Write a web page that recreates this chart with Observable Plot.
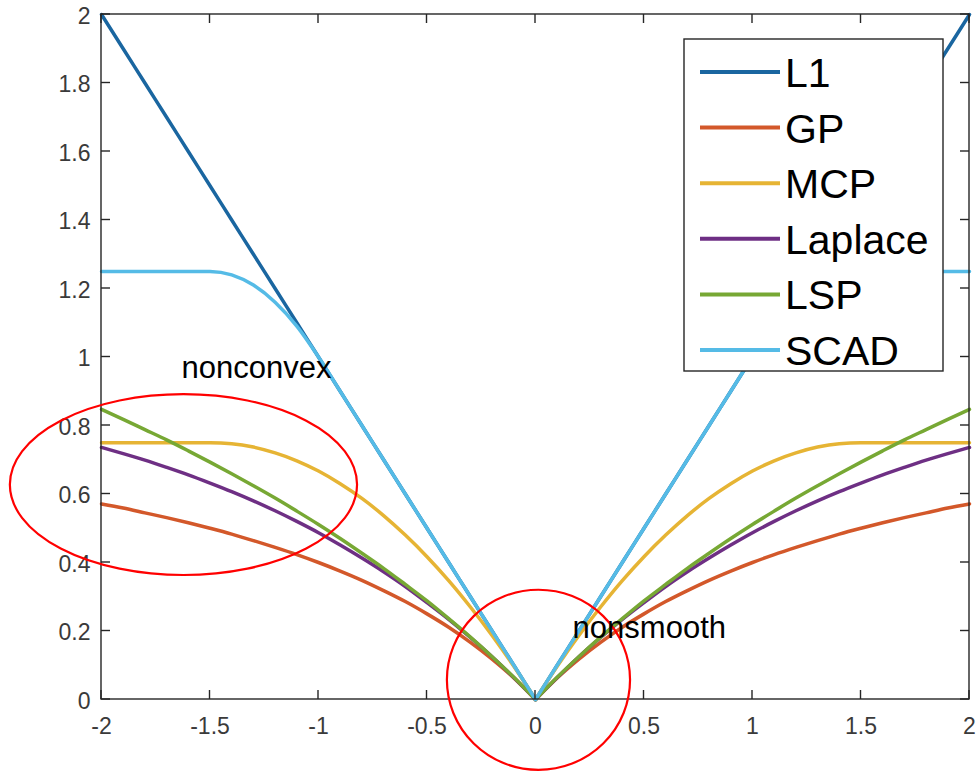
<!DOCTYPE html>
<html>
<head>
<meta charset="utf-8">
<script src="https://cdn.jsdelivr.net/npm/d3@7"></script>
<script src="https://cdn.jsdelivr.net/npm/@observablehq/plot@0.6"></script>
<style>
  html, body { margin: 0; padding: 0; background: #fff; }
  #chart { width: 977px; height: 771px; }
</style>
</head>
<body>
<div id="chart"></div>
<script>
// Sample positions along the horizontal axis
const xGrid = [-2,-1.9,-1.8,-1.7,-1.6,-1.5,-1.4,-1.3,-1.2,-1.1,-1,-0.9,-0.8,-0.7,-0.6,-0.5,-0.4,-0.3,-0.2,-0.1,0,
               0.1,0.2,0.3,0.4,0.5,0.6,0.7,0.8,0.9,1,1.1,1.2,1.3,1.4,1.5,1.6,1.7,1.8,1.9,2];

// Penalty values at each sample position
const l1Values = [2,1.9,1.8,1.7,1.6,1.5,1.4,1.3,1.2,1.1,1,0.9,0.8,0.7,0.6,0.5,0.4,0.3,0.2,0.1,0,
                  0.1,0.2,0.3,0.4,0.5,0.6,0.7,0.8,0.9,1,1.1,1.2,1.3,1.4,1.5,1.6,1.7,1.8,1.9,2];
const gpValues = [0.571,0.559,0.545,0.531,0.516,0.5,0.483,0.464,0.444,0.423,0.4,0.375,0.348,0.318,0.286,0.25,0.211,0.167,0.118,0.063,0,
                  0.063,0.118,0.167,0.211,0.25,0.286,0.318,0.348,0.375,0.4,0.423,0.444,0.464,0.483,0.5,0.516,0.531,0.545,0.559,0.571];
const mcpValues = [0.75,0.75,0.75,0.75,0.75,0.75,0.747,0.737,0.72,0.697,0.667,0.63,0.587,0.537,0.48,0.417,0.347,0.27,0.187,0.097,0,
                   0.097,0.187,0.27,0.347,0.417,0.48,0.537,0.587,0.63,0.667,0.697,0.72,0.737,0.747,0.75,0.75,0.75,0.75,0.75,0.75];
const laplaceValues = [0.736,0.718,0.699,0.678,0.656,0.632,0.607,0.580,0.551,0.520,0.487,0.451,0.413,0.373,0.330,0.283,0.234,0.181,0.125,0.064,0,
                       0.064,0.125,0.181,0.234,0.283,0.330,0.373,0.413,0.451,0.487,0.520,0.551,0.580,0.607,0.632,0.656,0.678,0.699,0.718,0.736];
const lspValues = [0.847,0.818,0.788,0.758,0.726,0.693,0.659,0.624,0.588,0.550,0.511,0.470,0.427,0.383,0.336,0.288,0.236,0.182,0.125,0.065,0,
                   0.065,0.125,0.182,0.236,0.288,0.336,0.383,0.427,0.470,0.511,0.550,0.588,0.624,0.659,0.693,0.726,0.758,0.788,0.818,0.847];
const scadValues = [1.25,1.25,1.25,1.25,1.25,1.25,1.24,1.21,1.16,1.09,1,0.9,0.8,0.7,0.6,0.5,0.4,0.3,0.2,0.1,0,
                    0.1,0.2,0.3,0.4,0.5,0.6,0.7,0.8,0.9,1,1.09,1.16,1.21,1.24,1.25,1.25,1.25,1.25,1.25,1.25];

const seriesNames = ["L1", "GP", "MCP", "Laplace", "LSP", "SCAD"];
const seriesValues = [l1Values, gpValues, mcpValues, laplaceValues, lspValues, scadValues];
const seriesColors = ["#1a66a0", "#d3582a", "#e6b434", "#6e2f84", "#77a834", "#55bbe6"];

// Axis ticks and their labels
const xTicks = [-2, -1.5, -1, -0.5, 0, 0.5, 1, 1.5, 2];
const xTickLabels = ["-2", "-1.5", "-1", "-0.5", "0", "0.5", "1", "1.5", "2"];
const yTicks = [0, 0.2, 0.4, 0.6, 0.8, 1, 1.2, 1.4, 1.6, 1.8, 2];
const yTickLabels = ["0", "0.2", "0.4", "0.6", "0.8", "1", "1.2", "1.4", "1.6", "1.8", "2"];

// Highlight rings (centre and radii in data units)
const ringCx = [-1.62, 0.016];
const ringCy = [0.626, 0.056];
const ringRx = [0.80, 0.422];
const ringRy = [0.264, 0.263];

// Annotation notes
const noteText = ["nonconvex", "nonsmooth"];
const noteX = [-1.631, 0.171];
const noteY = [0.968, 0.209];

// Long-format rows; each curve split into left and right halves at the kink x = 0
const rows = [];
seriesNames.forEach((name, s) => {
  xGrid.forEach((x, i) => {
    if (x <= 0) rows.push({series: name, key: name + "-L", x, y: seriesValues[s][i]});
  });
  xGrid.forEach((x, i) => {
    if (x >= 0) rows.push({series: name, key: name + "-R", x, y: seriesValues[s][i]});
  });
});

const axisColor = "#262626";
const tickLen = 9;

// Box frame with inward ticks on all four sides
function axesBox(index, scales, values, dims) {
  const g = d3.create("svg:g");
  const L = dims.marginLeft, T = dims.marginTop;
  const R = dims.width - dims.marginRight, B = dims.height - dims.marginBottom;
  g.append("rect")
    .attr("x", L).attr("y", T).attr("width", R - L).attr("height", B - T)
    .attr("fill", "none").attr("stroke", axisColor).attr("stroke-width", 1.4);
  for (const t of xTicks) {
    const px = scales.x(t);
    g.append("line").attr("x1", px).attr("x2", px).attr("y1", B).attr("y2", B - tickLen)
      .attr("stroke", axisColor).attr("stroke-width", 1.4);
    g.append("line").attr("x1", px).attr("x2", px).attr("y1", T).attr("y2", T + tickLen)
      .attr("stroke", axisColor).attr("stroke-width", 1.4);
  }
  for (const t of yTicks) {
    const py = scales.y(t);
    g.append("line").attr("x1", L).attr("x2", L + tickLen).attr("y1", py).attr("y2", py)
      .attr("stroke", axisColor).attr("stroke-width", 1.4);
    g.append("line").attr("x1", R).attr("x2", R - tickLen).attr("y1", py).attr("y2", py)
      .attr("stroke", axisColor).attr("stroke-width", 1.4);
  }
  return g.node();
}

// Red highlight ellipses
function rings(index, scales) {
  const g = d3.create("svg:g");
  ringCx.forEach((cx, i) => {
    const px = scales.x(cx), py = scales.y(ringCy[i]);
    const rx = Math.abs(scales.x(cx + ringRx[i]) - px);
    const ry = Math.abs(scales.y(ringCy[i] + ringRy[i]) - py);
    g.append("ellipse").attr("cx", px).attr("cy", py).attr("rx", rx).attr("ry", ry)
      .attr("fill", "none").attr("stroke", "#ff0000").attr("stroke-width", 2.2);
  });
  return g.node();
}

// Boxed legend in the upper right of the plot area
function legendBox(index, scales, values, dims) {
  const g = d3.create("svg:g").attr("text-anchor", "start");
  const R = dims.width - dims.marginRight, T = dims.marginTop;
  const left = R - 285, right = R - 26, top = T + 25, bottom = T + 357;
  g.append("rect").attr("x", left).attr("y", top).attr("width", right - left).attr("height", bottom - top)
    .attr("fill", "#fff").attr("stroke", axisColor).attr("stroke-width", 1.4);
  seriesNames.forEach((name, i) => {
    const cy = top + 33 + i * 55.6;
    g.append("line").attr("x1", left + 16).attr("x2", left + 96).attr("y1", cy).attr("y2", cy)
      .attr("stroke", seriesColors[i]).attr("stroke-width", 4);
    g.append("text").attr("x", left + 101).attr("y", cy + 15)
      .attr("text-anchor", "start").attr("font-size", 41).attr("fill", "#000").text(name);
  });
  return g.node();
}

const chart = Plot.plot({
  width: 977,
  height: 771,
  marginLeft: 101,
  marginRight: 8,
  marginTop: 14,
  marginBottom: 72,
  style: {fontFamily: "'Liberation Sans', Arial, sans-serif", background: "#fff", overflow: "visible"},
  x: {domain: [-2, 2], label: null},
  y: {domain: [0, 2], label: null},
  color: {domain: seriesNames, range: seriesColors},
  marks: [
    Plot.axisX(xTicks, {
      label: null, tickSize: 0, tickPadding: 18, fontSize: 23, fill: "#3a3a3a",
      tickFormat: (d) => xTickLabels[xTicks.indexOf(d)]
    }),
    Plot.axisY(yTicks, {
      label: null, tickSize: 0, tickPadding: 11, fontSize: 23, fill: "#3a3a3a", dy: 2,
      tickFormat: (d) => yTickLabels[yTicks.indexOf(d)]
    }),
    Plot.line(rows, {x: "x", y: "y", z: "key", stroke: "series", strokeWidth: 3.5, curve: "monotone-x"}),
    axesBox,
    legendBox,
    rings,
    Plot.text(noteText, {
      x: (d, i) => noteX[i], y: (d, i) => noteY[i], text: (d) => d,
      textAnchor: "start", lineAnchor: "middle", fontSize: 31, fill: "#000"
    })
  ]
});

document.getElementById("chart").appendChild(chart);
</script>
</body>
</html>
